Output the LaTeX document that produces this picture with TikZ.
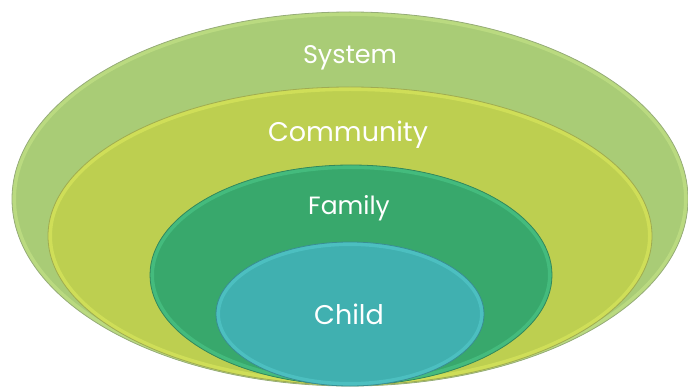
\documentclass[tikz,border=0pt]{standalone}
\usepackage{fontspec}
\setmainfont{Poppins}
\usepackage{tikz}
\definecolor{systemfill}{RGB}{169,204,118}
\definecolor{systemrim}{RGB}{200,230,138}
\definecolor{systemedge}{RGB}{150,172,120}
\definecolor{commfill}{RGB}{189,207,80}
\definecolor{commrim}{RGB}{222,236,96}
\definecolor{commedge}{RGB}{160,172,80}
\definecolor{familyfill}{RGB}{56,168,108}
\definecolor{familyrim}{RGB}{78,204,140}
\definecolor{familyedge}{RGB}{50,136,92}
\definecolor{childfill}{RGB}{64,176,176}
\definecolor{childrim}{RGB}{86,204,206}
\definecolor{childedge}{RGB}{56,142,146}

\begin{document}
\begin{tikzpicture}[x=1pt, y=-1pt,
  edge/.style={line width=0.8pt},
  rim/.style={line width=8pt, opacity=0.55},
  ringtext/.style={text=white, anchor=base, inner sep=0pt}
]
\useasboundingbox (0,0) rectangle (688,387);

% System ring
\fill[systemfill] (350,199) ellipse [x radius=338, y radius=187];
\begin{scope}
  \clip (350,199) ellipse [x radius=338, y radius=187];
  \draw[rim, systemrim] (350,199) ellipse [x radius=338, y radius=187];
\end{scope}
\draw[edge, systemedge] (350,199) ellipse [x radius=338, y radius=187];

% Community ring
\fill[commfill] (350,236) ellipse [x radius=302, y radius=149];
\begin{scope}
  \clip (350,236) ellipse [x radius=302, y radius=149];
  \draw[rim, commrim] (350,236) ellipse [x radius=302, y radius=149];
\end{scope}
\draw[edge, commedge] (350,236) ellipse [x radius=302, y radius=149];

% Family ring
\fill[familyfill] (351,275) ellipse [x radius=201, y radius=110];
\begin{scope}
  \clip (351,275) ellipse [x radius=201, y radius=110];
  \draw[rim, familyrim] (351,275) ellipse [x radius=201, y radius=110];
\end{scope}
\draw[edge, familyedge] (351,275) ellipse [x radius=201, y radius=110];

% Child core
\fill[childfill] (350,314) ellipse [x radius=134, y radius=72];
\begin{scope}
  \clip (350,314) ellipse [x radius=134, y radius=72];
  \draw[rim, childrim] (350,314) ellipse [x radius=134, y radius=72];
\end{scope}
\draw[edge, childedge] (350,314) ellipse [x radius=134, y radius=72];

% labels
\node[ringtext, font=\fontsize{25.5}{30}\selectfont] (system) at (350,64) {System};
\node[ringtext, font=\fontsize{27}{32}\selectfont] (community) at (348,142) {Community};
\node[ringtext, font=\fontsize{25}{30}\selectfont] (family) at (349,215) {Family};
\node[ringtext, font=\fontsize{27}{32}\selectfont] (child) at (349,324) {Child};

\end{tikzpicture}
\end{document}
